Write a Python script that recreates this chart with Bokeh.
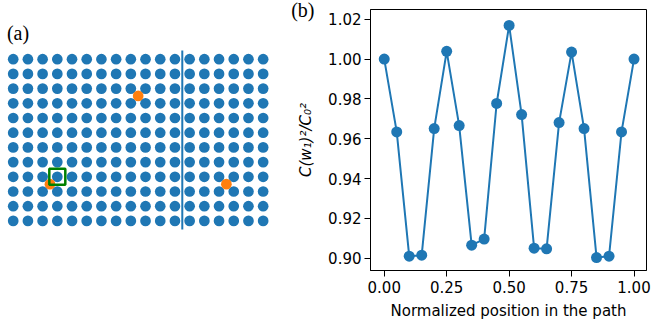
import numpy as np
from bokeh.plotting import figure
from bokeh.layouts import row
from bokeh.models import Range1d, FixedTicker, NumeralTickFormatter, Label, ColumnDataSource, LinearAxis
from bokeh.embed import file_html
from bokeh.resources import INLINE

# ---- panel (a) data ----
n_cols = 18
n_rows = 12
orange_cols = [8.5, 2.5, 14.5]
orange_rows = [2.5, 8.5, 8.5]
square_col = [3]
square_row = [8]
divider_col = 11.5

# ---- panel (b) data ----
positions = [0.00, 0.05, 0.10, 0.15, 0.20, 0.25, 0.30, 0.35, 0.40, 0.45, 0.50,
             0.55, 0.60, 0.65, 0.70, 0.75, 0.80, 0.85, 0.90, 0.95, 1.00]
ratio = [1.000, 0.9634, 0.9010, 0.9015, 0.9651, 1.0039, 0.9666, 0.9065, 0.9096, 0.9777, 1.0169,
         0.9721, 0.9050, 0.9047, 0.9681, 1.0035, 0.9651, 0.9003, 0.9010, 0.9634, 1.000]
x_ticks = [0.0, 0.25, 0.5, 0.75, 1.0]
y_ticks = [0.90, 0.92, 0.94, 0.96, 0.98, 1.00, 1.02]

BLUE = "#1f77b4"
ORANGE = "#ff7f0e"

# ---------------- panel (a) ----------------
left = figure(width=280, height=322, output_backend="svg", toolbar_location=None,
              x_range=Range1d(-0.864, 18.18), y_range=Range1d(14.374, -3.381),
              min_border_left=0, min_border_right=0, min_border_top=9, min_border_bottom=52)
left.axis.visible = False
left.grid.visible = False
left.outline_line_color = None

gx, gy = np.meshgrid(np.arange(n_cols), np.arange(n_rows))
left.scatter(gx.ravel(), gy.ravel(), size=10.7, color=BLUE, line_color=None)
left.segment(x0=[divider_col], y0=[-0.59], x1=[divider_col], y1=[11.58],
             line_color=BLUE, line_width=2)
left.scatter(orange_cols, orange_rows, size=10.7, color=ORANGE, line_color=None)
left.scatter(square_col, square_row, marker="square", size=16, fill_color=None,
             line_color="green", line_width=2.5)
left.add_layout(Label(x=-0.43, y=-1.8, text="(a)", text_font="Liberation Serif",
                      text_font_size="20px", text_baseline="middle", text_color="black"))

# ---------------- panel (b) ----------------
right = figure(width=371, height=322, output_backend="svg", toolbar_location=None,
               x_range=Range1d(-0.055, 1.05), y_range=Range1d(0.8938, 1.0249),
               min_border_left=90, min_border_right=5, min_border_top=9, min_border_bottom=52)
right.grid.visible = False
right.outline_line_color = "black"
right.outline_line_width = 1
right.outline_line_alpha = 1

src = ColumnDataSource(dict(x=positions, y=ratio))
right.line("x", "y", source=src, line_color=BLUE, line_width=2)
right.scatter("x", "y", source=src, size=11, color=BLUE, line_color=None)

for ax in (right.xaxis[0], right.yaxis[0]):
    ax.major_label_text_font = "DejaVu Sans"
    ax.major_label_text_font_size = "15px"
    ax.major_label_text_color = "black"
    ax.axis_label_text_font = "DejaVu Sans"
    ax.axis_label_text_font_size = "15px"
    ax.axis_label_text_color = "black"
    ax.minor_tick_line_color = None
    ax.major_tick_out = 6
    ax.major_tick_in = 0
    ax.axis_line_color = "black"
    ax.major_tick_line_color = "black"
    ax.formatter = NumeralTickFormatter(format="0.00")

right.xaxis.ticker = FixedTicker(ticks=x_ticks)
right.yaxis.ticker = FixedTicker(ticks=y_ticks)
right.xaxis.axis_label = "Normalized position in the path"
right.xaxis.axis_label_standoff = 6
right.xaxis.major_label_standoff = 4
right.yaxis.axis_label = "C(w\u2081)\u00b2/C\u2080\u00b2"
right.yaxis.axis_label_text_font_style = "italic"
right.yaxis.axis_label_standoff = 10
right.yaxis.major_label_standoff = 3
right.xaxis.axis_label_text_font_style = "normal"

# panel tag "(b)" as the label of a bare extra axis
tag = LinearAxis(ticker=FixedTicker(ticks=[]), axis_line_color=None,
                 major_tick_out=0, major_tick_in=0, minor_tick_line_color=None,
                 axis_label="(b)", axis_label_text_font="Liberation Serif",
                 axis_label_text_font_size="20px", axis_label_text_color="black",
                 axis_label_text_font_style="normal", axis_label_standoff=-20)
tag.axis_label_orientation = "horizontal"
for a in ("end", "right", "left", "start"):
    try:
        tag.axis_label_align = a
        break
    except Exception:
        pass
tag.axis_label_text_baseline = "top"
right.add_layout(tag, "left")

p = row(left, right)
open("out.html", "w").write(file_html(p, INLINE))
